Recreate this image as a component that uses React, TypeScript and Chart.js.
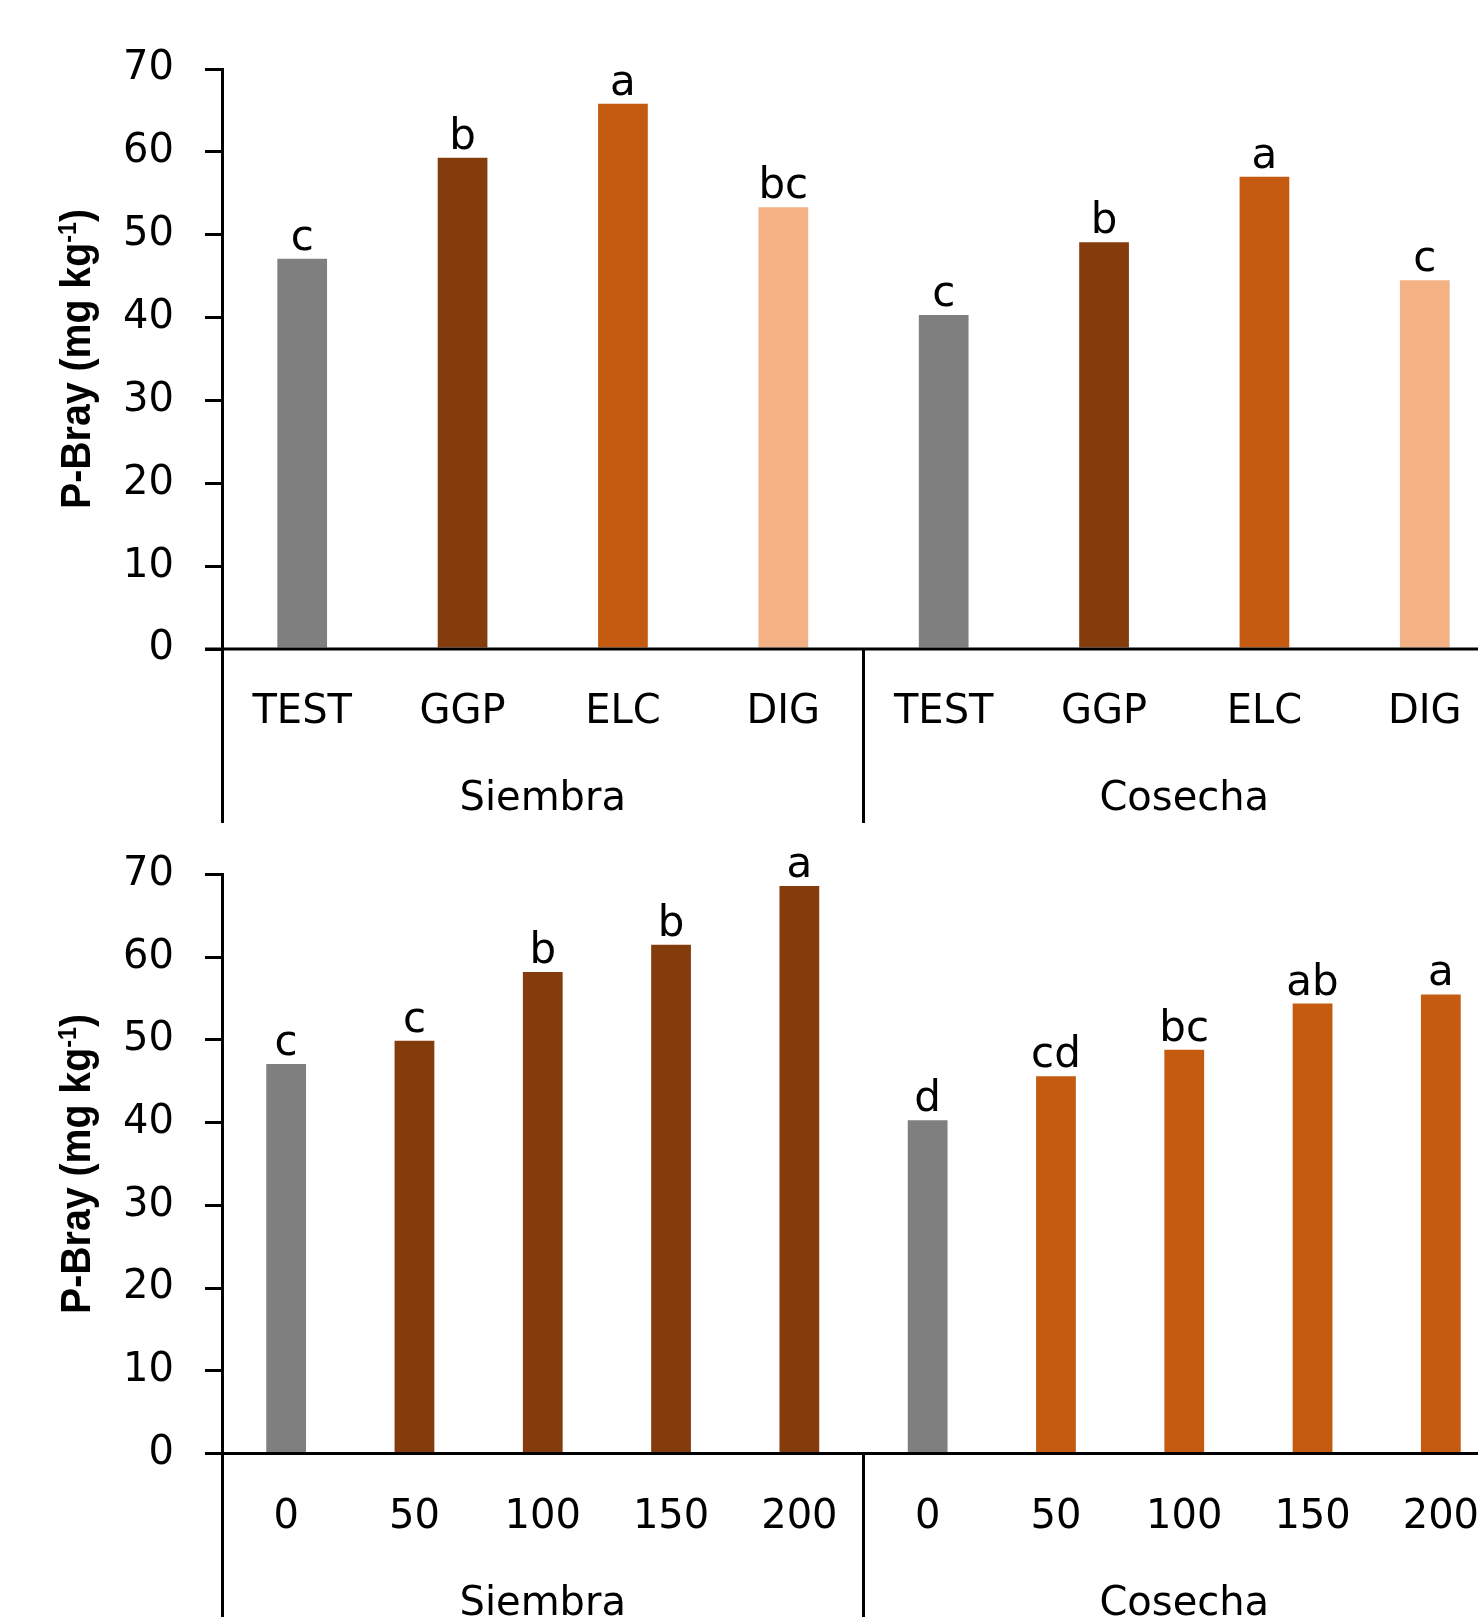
import React, { useEffect, useRef } from 'react';
import { Chart, registerables } from 'chart.js';

Chart.register(...registerables);

// Categories
const stages = ['Siembra', 'Cosecha'];
const treatments = ['TEST', 'GGP', 'ELC', 'DIG'];
const doses = ['0', '50', '100', '150', '200'];

// Y axis range (P-Bray, mg kg-1)
const yMin = 0;
const yMax = 70;
const yStep = 10;

// Upper panel: source treatments
const treatmentSiembra = [47.1, 59.3, 65.8, 53.3];
const treatmentCosecha = [40.3, 49.1, 57.0, 44.5];
const treatmentSiembraLetters = ['c', 'b', 'a', 'bc'];
const treatmentCosechaLetters = ['c', 'b', 'a', 'c'];

// Lower panel: doses
const doseSiembra = [47.1, 49.9, 58.2, 61.5, 68.6];
const doseCosecha = [40.3, 45.6, 48.8, 54.4, 55.5];
const doseSiembraLetters = ['c', 'c', 'b', 'b', 'a'];
const doseCosechaLetters = ['d', 'cd', 'bc', 'ab', 'a'];

const GRAY = '#7f7f7f';
const BROWN = '#843c0c';
const ORANGE = '#c55a11';
const PEACH = '#f4b183';

const treatmentColors = [GRAY, BROWN, ORANGE, PEACH];
const doseSiembraColors = [GRAY, BROWN, BROWN, BROWN, BROWN];
const doseCosechaColors = [GRAY, ORANGE, ORANGE, ORANGE, ORANGE];

const LABEL_FONT = '"DejaVu Sans", sans-serif';
const TITLE_FONT = '"Liberation Sans", Arial, sans-serif';
const TICK_LEN = 17;
const AXIS_W = 3;
const TITLE_LEN = 300;

type PanelOpts = {
  categories: string[];
  perGroup: number;
  groups: string[];
  letters: string[];
  values: number[];
  axisEnd: number;
};

const panelPlugin = {
  id: 'panel',
  afterDraw(chart: any, _args: any, opts: PanelOpts) {
    const { ctx, chartArea } = chart;
    const xs = chart.scales.x;
    const ys = chart.scales.y;
    const base = ys.getPixelForValue(0);
    const axisX = ys._borderValue ?? ys.right;
    const px = (i: number) => xs.getPixelForValue(i);
    const end = Math.min(chart.height, opts.axisEnd);

    ctx.save();
    ctx.strokeStyle = '#000';
    ctx.lineWidth = AXIS_W;
    ctx.beginPath();
    // category baseline
    ctx.moveTo(chartArea.left - TICK_LEN, base);
    ctx.lineTo(chart.width, base);
    // value axis continues down through the label band
    ctx.moveTo(axisX, chartArea.bottom);
    ctx.lineTo(axisX, end);
    // separators between stage groups
    for (let g = 1; g < opts.groups.length; g++) {
      const k = g * opts.perGroup;
      const sx = (px(k - 1) + px(k)) / 2;
      ctx.moveTo(sx, base);
      ctx.lineTo(sx, end);
    }
    ctx.stroke();

    ctx.fillStyle = '#000';
    ctx.textAlign = 'center';
    ctx.textBaseline = 'alphabetic';

    // category and group labels
    ctx.font = `40px ${LABEL_FONT}`;
    opts.categories.forEach((c, i) => ctx.fillText(c, px(i), base + 74));
    opts.groups.forEach((g, gi) => {
      const first = gi * opts.perGroup;
      const last = first + opts.perGroup - 1;
      ctx.fillText(g, (px(first) + px(last)) / 2, base + 161);
    });

    // significance letters
    ctx.font = `42px ${LABEL_FONT}`;
    opts.letters.forEach((l, i) => {
      ctx.fillText(l, px(i), ys.getPixelForValue(opts.values[i]) - 9);
    });

    // value axis title with superscript
    const cy = (chartArea.top + chartArea.bottom) / 2;
    const main = 'P-Bray (mg kg';
    const sup = '-1';
    const close = ')';
    const fMain = `bold 42px ${TITLE_FONT}`;
    const fSup = `bold 25px ${TITLE_FONT}`;
    ctx.font = fMain;
    const wMain = ctx.measureText(main).width;
    const wClose = ctx.measureText(close).width;
    ctx.font = fSup;
    const wSup = ctx.measureText(sup).width;
    const total = wMain + wSup + wClose;
    ctx.translate(90, cy);
    ctx.rotate(-Math.PI / 2);
    ctx.scale(TITLE_LEN / total, 1);
    ctx.textAlign = 'left';
    let tx = -total / 2;
    ctx.font = fMain;
    ctx.fillText(main, tx, 0);
    tx += wMain;
    ctx.font = fSup;
    ctx.fillText(sup, tx, -14);
    tx += wSup;
    ctx.font = fMain;
    ctx.fillText(close, tx, 0);
    ctx.restore();
  },
};

function makeConfig(
  categories: string[],
  perGroup: number,
  values: number[],
  colors: string[],
  letters: string[],
  padTop: number,
  padBottom: number,
  axisEnd: number
): any {
  return {
    type: 'bar',
    data: {
      labels: categories.map((c, i) => `${i}:${c}`),
      datasets: [
        {
          data: values,
          backgroundColor: colors,
          borderWidth: 0,
          barPercentage: 0.31,
          categoryPercentage: 1,
        },
      ],
    },
    options: {
      responsive: false,
      animation: false,
      devicePixelRatio: 1,
      layout: { padding: { left: 0, right: 5, top: padTop, bottom: padBottom } },
      plugins: {
        legend: { display: false },
        tooltip: { enabled: false },
        panel: { categories, perGroup, groups: stages, letters, values, axisEnd },
      },
      scales: {
        x: { display: false },
        y: {
          min: yMin,
          max: yMax,
          afterFit: (scale: any) => {
            scale.width = 222;
          },
          ticks: {
            stepSize: yStep,
            color: '#000',
            padding: 31,
            font: { family: LABEL_FONT, size: 40 },
          },
          grid: {
            display: true,
            drawOnChartArea: false,
            drawTicks: true,
            tickLength: TICK_LEN,
            color: '#000',
            lineWidth: AXIS_W,
          },
          border: { display: true, color: '#000', width: AXIS_W },
        },
      },
    },
    plugins: [panelPlugin],
  };
}

function Panel(props: {
  top: number;
  height: number;
  categories: string[];
  perGroup: number;
  values: number[];
  colors: string[];
  letters: string[];
  padTop: number;
  padBottom: number;
  axisEnd: number;
}) {
  const ref = useRef<HTMLCanvasElement>(null);
  useEffect(() => {
    if (!ref.current) return;
    const chart = new Chart(
      ref.current,
      makeConfig(
        props.categories,
        props.perGroup,
        props.values,
        props.colors,
        props.letters,
        props.padTop,
        props.padBottom,
        props.axisEnd
      )
    );
    return () => chart.destroy();
  }, []);
  return (
    <canvas
      ref={ref}
      width={1510}
      height={props.height}
      style={{ position: 'absolute', left: 0, top: props.top, width: 1510, height: props.height }}
    />
  );
}

export default function App() {
  const topCats = [...treatments, ...treatments];
  const topVals = [...treatmentSiembra, ...treatmentCosecha];
  const topCols = [...treatmentColors, ...treatmentColors];
  const topLetters = [...treatmentSiembraLetters, ...treatmentCosechaLetters];

  const botCats = [...doses, ...doses];
  const botVals = [...doseSiembra, ...doseCosecha];
  const botCols = [...doseSiembraColors, ...doseCosechaColors];
  const botLetters = [...doseSiembraLetters, ...doseCosechaLetters];

  return (
    <div
      style={{
        position: 'absolute',
        left: 0,
        top: 0,
        width: 1478,
        height: 1617,
        overflow: 'hidden',
        background: '#fff',
      }}
    >
      <Panel
        top={0}
        height={823}
        categories={topCats}
        perGroup={treatments.length}
        values={topVals}
        colors={topCols}
        letters={topLetters}
        padTop={69}
        padBottom={823 - 649}
        axisEnd={823}
      />
      <Panel
        top={790}
        height={827}
        categories={botCats}
        perGroup={doses.length}
        values={botVals}
        colors={botCols}
        letters={botLetters}
        padTop={84.5}
        padBottom={827 - 663.5}
        axisEnd={827}
      />
    </div>
  );
}
